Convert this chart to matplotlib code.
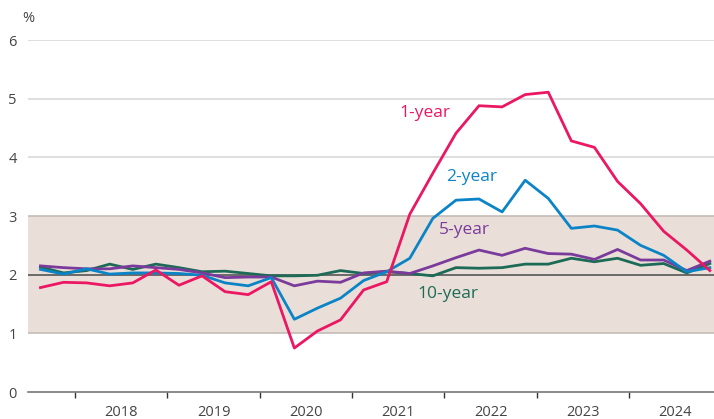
import numpy as np
import matplotlib.pyplot as plt

plt.rcParams['font.family'] = ['Open Sans', 'DejaVu Sans']

# quarterly observations, 2017 Q3 to 2024 Q4
years = [2017] * 2 + [y for y in range(2018, 2025) for _ in range(4)]
quarters = [3, 4] + [1, 2, 3, 4] * 7
x = np.array(years) + (np.array(quarters) - 0.5) / 4

one_year = [1.78, 1.87, 1.86, 1.81, 1.86, 2.08, 1.82, 1.98, 1.71, 1.66,
            1.88, 0.75, 1.04, 1.23, 1.74, 1.88, 3.03, 3.73, 4.41, 4.88,
            4.86, 5.07, 5.11, 4.28, 4.17, 3.59, 3.21, 2.74, 2.42, 2.07]
two_year = [2.09, 2.01, 2.10, 2.01, 2.03, 2.03, 2.02, 1.99, 1.86, 1.81,
            1.95, 1.24, 1.43, 1.60, 1.90, 2.05, 2.28, 2.96, 3.27, 3.29,
            3.07, 3.61, 3.30, 2.79, 2.83, 2.76, 2.50, 2.33, 2.05, 2.12]
five_year = [2.15, 2.12, 2.10, 2.10, 2.15, 2.12, 2.09, 2.03, 1.95, 1.96,
             1.96, 1.81, 1.89, 1.87, 2.03, 2.06, 2.02, 2.15, 2.29, 2.42,
             2.33, 2.45, 2.36, 2.35, 2.26, 2.43, 2.25, 2.25, 2.07, 2.23]
ten_year = [2.13, 2.03, 2.07, 2.18, 2.09, 2.18, 2.12, 2.05, 2.06, 2.02,
            1.98, 1.98, 1.99, 2.07, 2.02, 2.05, 2.02, 1.98, 2.12, 2.11,
            2.12, 2.18, 2.18, 2.28, 2.22, 2.28, 2.16, 2.19, 2.03, 2.19]

year_labels = ['2018', '2019', '2020', '2021', '2022', '2023', '2024']

fig = plt.figure(figsize=(7.14, 4.19), dpi=100)
ax = fig.add_axes([0.0392, 0.0644, 0.9608, 0.8401])

ax.axhspan(1, 3, color='#eadfd8', zorder=0, lw=0)
for v in [4, 5, 6]:
    ax.axhline(v, color='#d9d9d9', lw=1.2, zorder=1)
for v in [1, 3]:
    ax.axhline(v, color='#c4bcb8', lw=1.2, zorder=1)
ax.axhline(2, color='#555555', lw=1.2, zorder=2)

ax.plot(x, ten_year, color='#1d6b57', lw=2.0, zorder=3)
ax.plot(x, five_year, color='#7a3b9c', lw=2.0, zorder=4)
ax.plot(x, two_year, color='#0a84c6', lw=2.0, zorder=5)
ax.plot(x, one_year, color='#ec1763', lw=2.0, zorder=6)

lab = dict(fontsize=12.5, ha='center', va='center')
ax.text(2021.79, 4.75, '1-year', color='#ec1763', **lab)
ax.text(2022.30, 3.66, '2-year', color='#0a84c6', **lab)
ax.text(2022.22, 2.76, '5-year', color='#7a3b9c', **lab)
ax.text(2022.04, 1.67, '10-year', color='#1d6b57', **lab)

ax.set_xlim(2017.49, 2024.92)
ax.set_ylim(0, 6)

ax.set_yticks(range(7))
ax.tick_params(axis='y', length=0, pad=8, labelsize=10.5, labelcolor='#444444')
ax.set_xticks(range(2018, 2025))
ax.set_xticklabels([])
ax.set_xticks([y + 0.5 for y in range(2018, 2025)], minor=True)
ax.set_xticklabels(year_labels, minor=True)
ax.tick_params(axis='x', which='major', length=4, width=1, color='#333333', direction='out')
ax.tick_params(axis='x', which='minor', length=0, pad=9, labelsize=10.5, labelcolor='#444444')

for s in ['top', 'right', 'left']:
    ax.spines[s].set_visible(False)
ax.spines['bottom'].set_color('#777777')
ax.spines['bottom'].set_linewidth(1.2)

fig.text(0.0392, 0.955, '%', fontsize=10.5, color='#444444', ha='center', va='center')

fig.savefig('out.png', dpi=100)
